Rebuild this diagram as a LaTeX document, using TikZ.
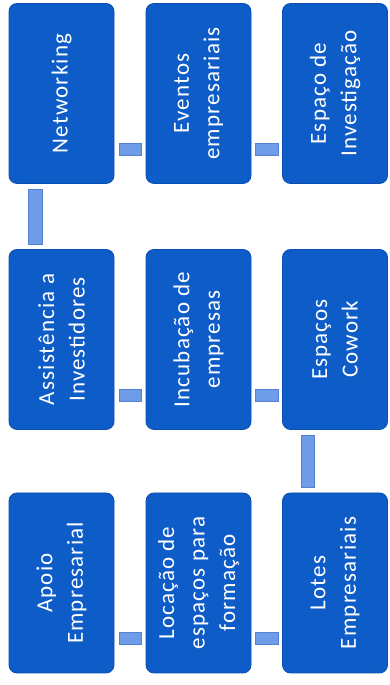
\documentclass[tikz,border=0pt]{standalone}
\usepackage{fontspec}
\setmainfont[LetterSpace=5]{Carlito}
\usetikzlibrary{calc}
\definecolor{boxblue}{RGB}{14,92,200}
\definecolor{boxedge}{RGB}{10,78,178}
\definecolor{barblue}{RGB}{110,156,230}
\definecolor{baredge}{RGB}{84,130,212}
\begin{document}
\begin{tikzpicture}[x=1pt,y=1pt,
  box/.style={draw=boxedge, line width=0.8pt, fill=boxblue, rounded corners=8pt,
    minimum width=105pt, minimum height=180pt, inner sep=0pt},
  lbl/.style={text=white, font=\fontsize{23}{30.5}\selectfont, align=center, rotate=90, inner sep=0pt},
  bar/.style={fill=barblue, draw=baredge, line width=0.5pt}]
\fill[white] (0,0) rectangle (389,685);
\useasboundingbox (0,0) rectangle (389,685);
% boxes
\node[box] (n1) at (61.5,102) {};
\node[box] (n2) at (198.5,102) {};
\node[box] (n3) at (335,102) {};
\node[box] (n4) at (335,345.5) {};
\node[box] (n5) at (198.5,345.5) {};
\node[box] (n6) at (61.5,345.5) {};
\node[box] (n7) at (61.5,591.5) {};
\node[box] (n8) at (198.5,591.5) {};
\node[box] (n9) at (335,591.5) {};
% labels
\node[lbl] (t1) at (n1) {Apoio\\Empresarial};
\node[lbl] (t2) at (n2) {Locação de\\espaços para\\formação};
\node[lbl] (t3) at (n3) {Lotes\\Empresariais};
\node[lbl] (t4) at (n4) {Espaços\\Cowork};
\node[lbl] (t5) at (n5) {Incubação de\\empresas};
\node[lbl] (t6) at (n6) {Assistência a\\Investidores};
\node[lbl] (t7) at (n7) {Networking};
\node[lbl] (t8) at (n8) {Eventos\\empresariais};
\node[lbl] (t9) at (n9) {Espaço de\\Investigação};
% connectors
\path[bar] ($(n1.south east)+(5,29)$) rectangle ($(n2.south west)+(-4,41)$);
\path[bar] ($(n2.south east)+(4,29)$) rectangle ($(n3.south west)+(-4,41)$);
\path[bar] ($(n3.north west)+(19.5,5)$) rectangle ($(n4.south west)+(32.5,-5)$);
\path[bar] ($(n5.south east)+(4,29)$) rectangle ($(n4.south west)+(-4,41)$);
\path[bar] ($(n6.south east)+(5,29)$) rectangle ($(n5.south west)+(-4,41)$);
\path[bar] ($(n6.north west)+(19.5,5)$) rectangle ($(n7.south west)+(33.5,-5)$);
\path[bar] ($(n7.south east)+(5,29)$) rectangle ($(n8.south west)+(-4,41)$);
\path[bar] ($(n8.south east)+(4,29)$) rectangle ($(n9.south west)+(-4,41)$);
\end{tikzpicture}
\end{document}
